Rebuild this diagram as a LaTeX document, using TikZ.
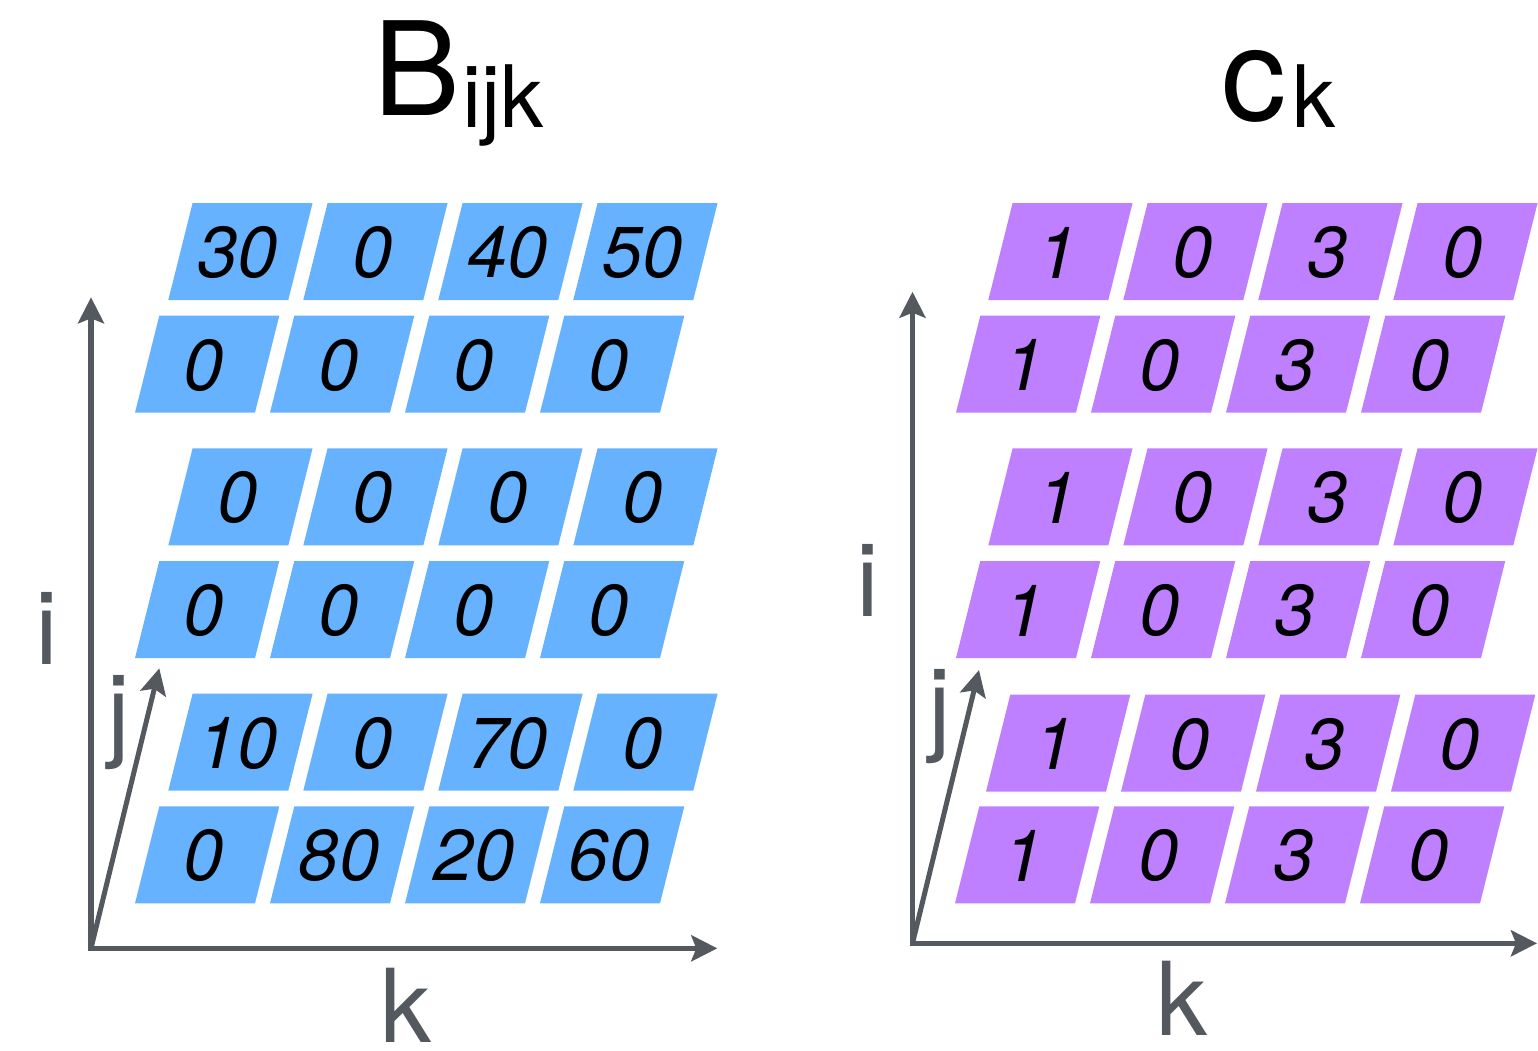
\documentclass[tikz,border=0pt]{standalone}
\usepackage{fontspec}
\setmainfont{TeX Gyre Heros}
\usepackage{xcolor}
\usepackage{tikz}
\usetikzlibrary{arrows.meta}
\definecolor{cellblue}{RGB}{102,178,255}
\definecolor{cellpurple}{RGB}{191,128,255}
\definecolor{axisgray}{RGB}{84,89,95}
\tikzset{
  axis/.style={-{Stealth[length=0.26cm, width=0.26cm, inset=0.05cm]}, line width=0.05cm, draw=axisgray},
  axes/.style={{Stealth[length=0.26cm, width=0.26cm, inset=0.05cm]}-{Stealth[length=0.26cm, width=0.26cm, inset=0.05cm]},
               line width=0.05cm, draw=axisgray, line join=miter},
  num/.style={inner sep=0pt, font=\fontsize{20.5}{24}\selectfont\itshape},
  axlbl/.style={inner sep=0pt, anchor=base, text=axisgray, font=\fontsize{29}{32}\selectfont},
  ttl/.style={inner sep=0pt, anchor=base west, font=\fontsize{37}{40}\selectfont},
}

\begin{document}
\begin{tikzpicture}[x=0.01cm, y=-0.01cm]
\useasboundingbox (0,0) rectangle (1538,1050);

% Titles
\node[ttl] (btitle) at (372.7,115) {B\hspace{0.02cm}\raisebox{-0.12cm}{\fontsize{24.5}{28}\selectfont ijk}};
\node[ttl] (ctitle) at (1221,120) {c\hspace{0.06cm}\raisebox{-0.07cm}{\fontsize{24.5}{28}\selectfont k}};

% B cells, row by row from the top
\foreach \r/\x/\y/\vals in {0/168.3/300/{30,0,40,50}, 1/135/412.7/{0,0,0,0},
                            2/168.3/545.3/{0,0,0,0}, 3/135/658/{0,0,0,0},
                            4/168.3/790.6/{10,0,70,0}, 5/135/903.3/{0,80,20,60}}
  \foreach \v [count=\c from 0] in \vals {
    \fill[cellblue] (\x+135*\c,\y) -- ++(120,0) -- ++(24.3,-97) -- ++(-120,0) -- cycle;
    \node[num] (b\r\c) at (\x+135*\c+69,\y-47.5) {\v};
  }

% c cells
\foreach \r/\x/\y in {0/988.3/300, 1/956/412.7, 2/988.3/545.3, 3/956/658, 4/986/791.6, 5/955/903.3}
  \foreach \v [count=\c from 0] in {1,0,3,0} {
    \fill[cellpurple] (\x+135*\c,\y) -- ++(120,0) -- ++(24.3,-97) -- ++(-120,0) -- cycle;
    \node[num] (c\r\c) at (\x+135*\c+69,\y-47.5) {\v};
  }

% Axes of B
\coordinate (bo) at (91,948.3);
\coordinate (bi) at (91,297.3);
\coordinate (bj) at (159.3,668.3);
\coordinate (bk) at (717.3,948.3);
\draw[axes] (bi) -- (bo) -- (bk);
\draw[axis] (bo) -- (bj);
\node[axlbl] (bilbl) at (46.5,664.3) {i};
\node[axlbl] (bjlbl) at (118.5,747) {j};
\node[axlbl] (bklbl) at (405.5,1042) {k};

% Axes of c
\coordinate (co) at (912.5,943.3);
\coordinate (ci) at (912.5,291.7);
\coordinate (cj) at (979,670);
\coordinate (ck) at (1537,943.3);
\draw[axes] (ci) -- (co) -- (ck);
\draw[axis] (co) -- (cj);
\node[axlbl] (cilbl) at (867.5,616.7) {i};
\node[axlbl] (cjlbl) at (940,741.7) {j};
\node[axlbl] (cklbl) at (1181.5,1035) {k};

\end{tikzpicture}
\end{document}
